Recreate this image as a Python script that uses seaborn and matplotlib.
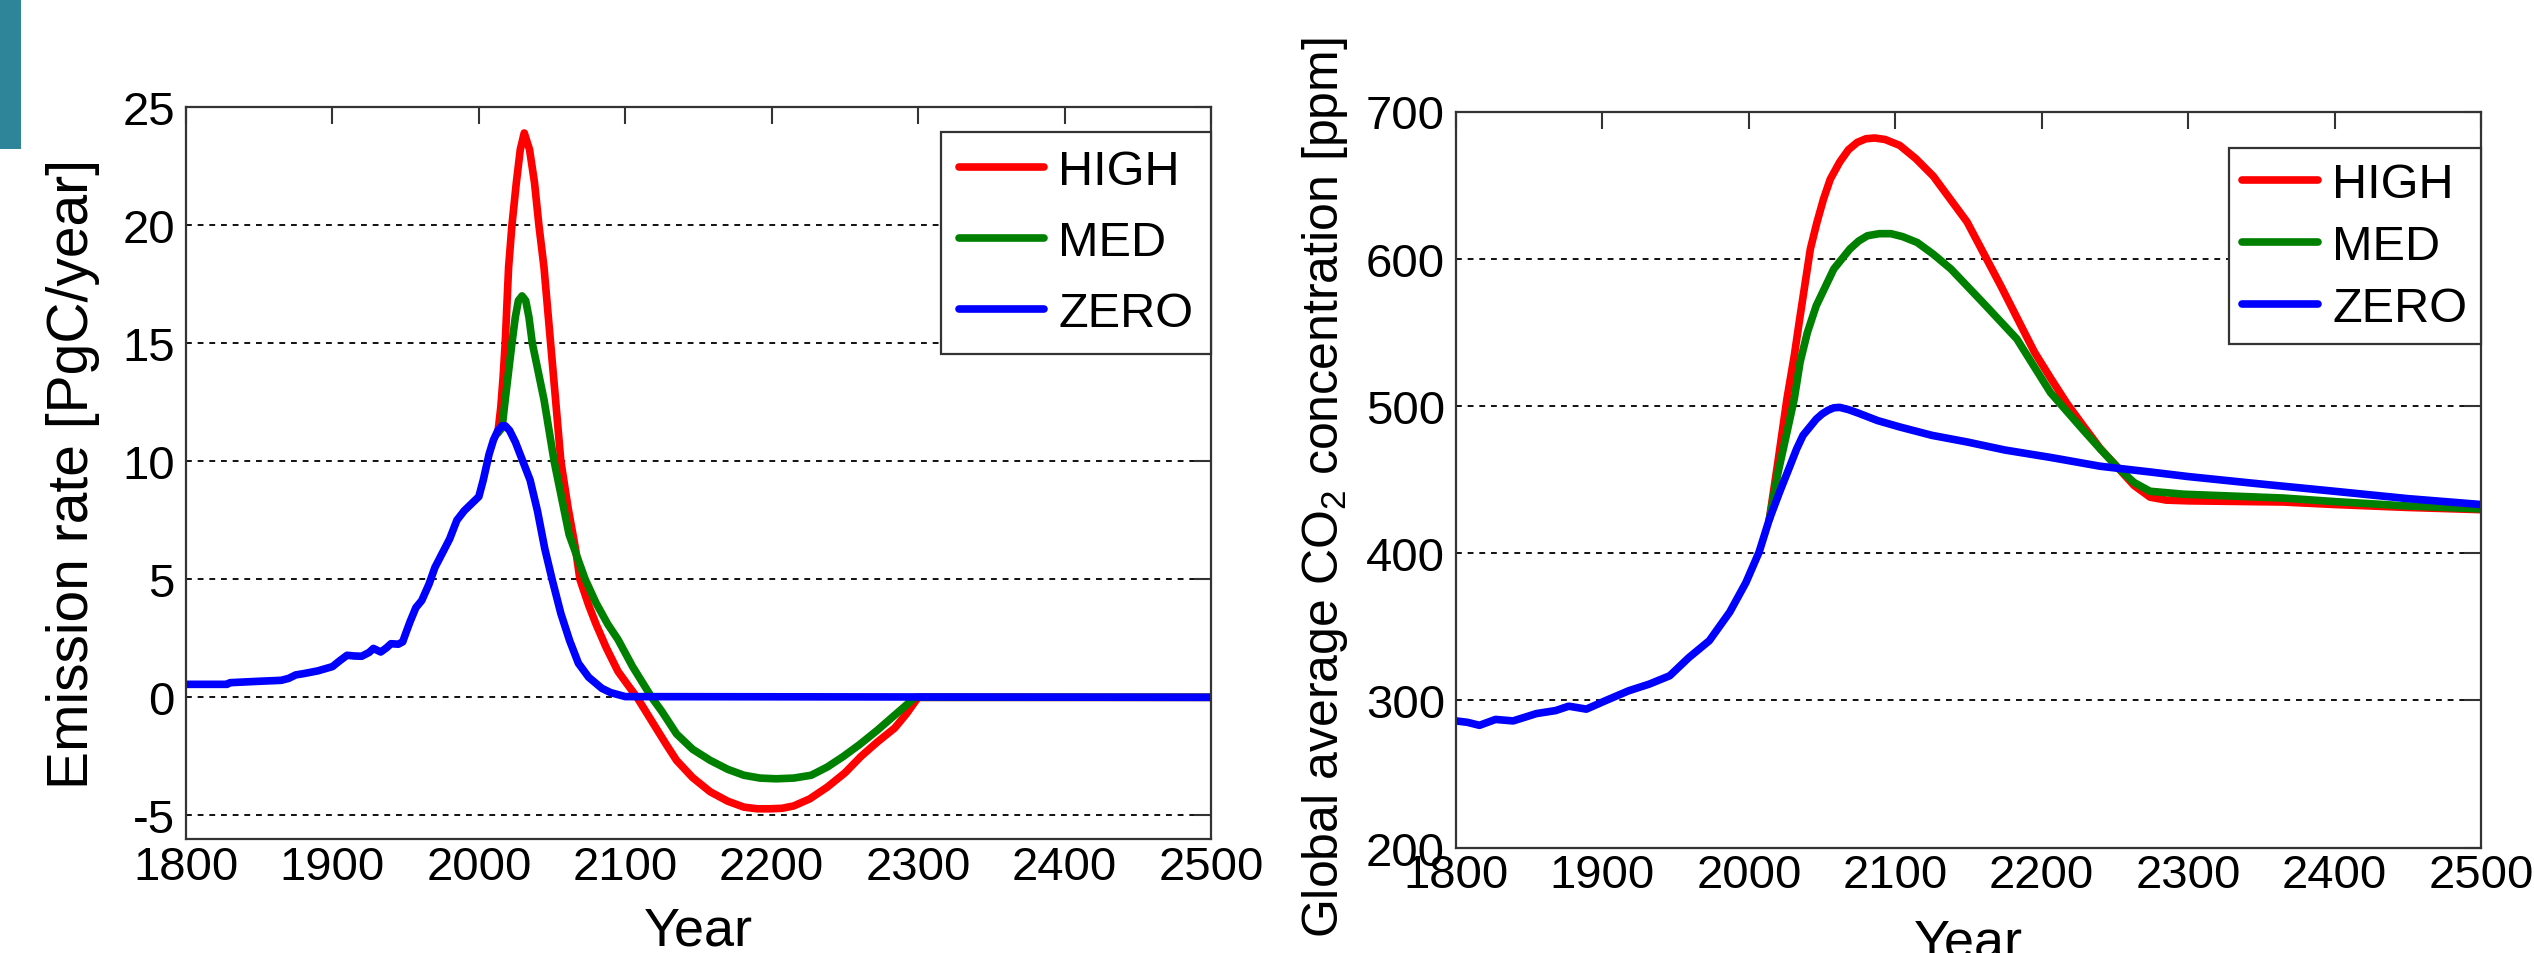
import numpy as np
import pandas as pd
import matplotlib
matplotlib.use("Agg")
import matplotlib.pyplot as plt
from matplotlib.patches import Rectangle
from matplotlib.lines import Line2D
import seaborn as sns

# ---------------- data ----------------
scenarios = ["HIGH", "MED", "ZERO"]
colors = {"HIGH": "#FF0000", "MED": "#008000", "ZERO": "#0000FF"}

# Emission rate [PgC/year]
em_zero_years = [1800, 1828, 1830, 1850, 1865, 1870, 1875, 1880, 1890, 1900, 1905, 1910, 1915,
                 1920, 1925, 1928, 1933, 1937, 1940, 1945, 1948, 1950, 1953, 1957, 1961, 1966,
                 1970, 1975, 1980, 1985, 1990, 1995, 2000, 2003, 2007, 2010, 2013, 2016, 2018,
                 2021, 2025, 2030, 2035, 2040, 2045, 2050, 2056, 2062, 2068, 2075, 2084, 2090,
                 2100, 2500]
em_zero_vals = [0.55, 0.55, 0.62, 0.68, 0.72, 0.8, 0.95, 1.0, 1.12, 1.3, 1.55, 1.78, 1.75,
                1.74, 1.9, 2.07, 1.92, 2.1, 2.27, 2.25, 2.35, 2.7, 3.2, 3.8, 4.1, 4.8,
                5.5, 6.1, 6.7, 7.5, 7.9, 8.2, 8.5, 9.2, 10.3, 10.9, 11.3, 11.5, 11.5,
                11.3, 10.8, 10.0, 9.2, 7.9, 6.3, 5.0, 3.55, 2.4, 1.44, 0.85, 0.38, 0.2,
                0.03, 0.0]

em_high_years = [2013, 2015, 2016.5, 2018, 2020.3, 2022.6, 2025.6, 2028.3, 2031, 2034.6, 2038,
                 2041, 2044.5, 2049, 2052.4, 2056, 2061, 2066, 2069, 2075, 2080, 2087, 2095,
                 2102, 2108, 2112, 2120, 2128, 2135, 2146, 2158, 2170, 2181, 2190, 2199, 2207,
                 2215, 2226, 2238, 2250, 2261, 2272, 2284, 2292, 2300, 2500]
em_high_vals = [11.2, 12.3, 13.5, 15.0, 18.2, 20.0, 21.8, 23.2, 23.9, 23.2, 21.8,
                20.0, 18.2, 15.0, 12.6, 10.0, 8.0, 6.3, 5.0, 3.9, 3.1, 2.1, 1.1,
                0.5, 0.0, -0.4, -1.2, -2.0, -2.67, -3.4, -4.0, -4.4, -4.65, -4.72, -4.72, -4.7,
                -4.6, -4.3, -3.8, -3.2, -2.5, -1.9, -1.3, -0.7, 0.0, 0.0]

em_med_years = [2013, 2015.8, 2018, 2022.6, 2024.9, 2027, 2029.5, 2032, 2034.2, 2036.5, 2044.5,
                2051.4, 2061.6, 2072.6, 2080, 2088, 2095, 2105, 2112, 2118, 2125, 2135, 2146,
                2158, 2170, 2181, 2192, 2203, 2215, 2227, 2238, 2249, 2260, 2272, 2285, 2298,
                2500]
em_med_vals = [11.2, 11.4, 12.6, 15.0, 16.1, 16.8, 17.0, 16.8, 16.1, 15.0, 12.6,
               10.0, 6.9, 5.0, 4.0, 3.1, 2.45, 1.3, 0.6, 0.0, -0.6, -1.55, -2.2,
               -2.67, -3.05, -3.3, -3.42, -3.45, -3.42, -3.3, -2.95, -2.5, -2.0, -1.4, -0.7, 0.0,
               0.0]

# Global average CO2 concentration [ppm]
co2_zero_years = [1800, 1808, 1816, 1827, 1839, 1855, 1868, 1877, 1889, 1902, 1918, 1932, 1946,
                  1959, 1973, 1987, 1998, 2007, 2014, 2021, 2028, 2032.6, 2037, 2046, 2050, 2054,
                  2058, 2062, 2068, 2075, 2088, 2103, 2125, 2149, 2175, 2206, 2240, 2275, 2300,
                  2343, 2400, 2450, 2500]
co2_zero_vals = [286, 285, 283, 287, 286, 291, 293, 296, 294, 299.7, 306.5, 311, 316.7,
                 329, 340.5, 360, 380, 400.7, 423, 441.5, 459, 470.7, 480, 491, 494.5, 497,
                 498.7, 499, 497.5, 495, 490, 485.7, 480, 475.5, 470, 465, 459, 455, 452,
                 447.6, 442, 437, 433]

co2_high_years = [2014, 2020, 2026, 2031, 2035, 2042, 2046.5, 2051, 2055.6, 2062, 2068, 2074, 2080,
                  2086, 2093, 2103, 2114, 2126, 2149, 2172, 2195, 2206, 2217, 2228, 2240, 2252,
                  2263, 2274, 2285, 2300, 2365, 2400, 2450, 2500]
co2_high_vals = [423, 463, 504.7, 534, 561, 606.6, 624.7, 640.6, 654, 665.6, 674, 679, 681.5,
                 682, 681, 677, 668, 656, 625, 581.7, 536.6, 519, 502, 487, 471, 458,
                 446, 438, 436, 435.5, 434.7, 433, 431, 429.5]

co2_med_years = [2014, 2020, 2026, 2031, 2035, 2040, 2046, 2058, 2069, 2075, 2081, 2089, 2097,
                 2105, 2115, 2126, 2138, 2160, 2183, 2206, 2228, 2240, 2252, 2263, 2274, 2297,
                 2365, 2400, 2450, 2500]
co2_med_vals = [423, 455, 482, 504.7, 529.8, 550, 568, 593, 606.6, 612, 615.6, 617, 617,
                615, 611, 603, 593, 570, 545.5, 509, 484, 470.7, 458, 448, 442, 440,
                437.4, 435, 432, 430]

xticks = [1800, 1900, 2000, 2100, 2200, 2300, 2400, 2500]
em_yticks = [-5, 0, 5, 10, 15, 20, 25]
co2_yticks = [200, 300, 400, 500, 600, 700]


def long_frame(parts):
    frames = []
    for name, yrs, vals in parts:
        frames.append(pd.DataFrame({"Year": yrs, "value": vals, "scenario": name}))
    return pd.concat(frames, ignore_index=True)


em_df = long_frame([("HIGH", em_high_years, em_high_vals),
                    ("MED", em_med_years, em_med_vals),
                    ("ZERO", em_zero_years, em_zero_vals)])
co2_df = long_frame([("HIGH", co2_high_years, co2_high_vals),
                     ("MED", co2_med_years, co2_med_vals),
                     ("ZERO", co2_zero_years, co2_zero_vals)])

# ---------------- style ----------------
sns.set_style("white")
plt.rcParams["font.family"] = ["Liberation Sans", "DejaVu Sans"]
plt.rcParams["mathtext.fontset"] = "custom"
plt.rcParams["mathtext.rm"] = "Liberation Sans"
plt.rcParams["mathtext.it"] = "Liberation Sans:italic"
plt.rcParams["text.color"] = "black"
plt.rcParams["axes.labelcolor"] = "black"
plt.rcParams["xtick.color"] = "black"
plt.rcParams["ytick.color"] = "black"

W, H = 2534, 954
fig = plt.figure(figsize=(W / 100, H / 100), dpi=100)
fig.patch.set_facecolor("white")

fig.patches.append(Rectangle((0, 1 - 150 / H), 21 / W, 150 / H, transform=fig.transFigure,
                             facecolor="#2E8499", edgecolor="none", zorder=0))


def px_axes(l, r, t, b):
    return fig.add_axes([l / W, 1 - b / H, (r - l) / W, (b - t) / H])


ax1 = px_axes(186, 1211, 108, 840)
ax2 = px_axes(1456, 2481, 112.5, 848.5)

spine_col = "#333333"
for ax, df, yticks, ylim in [(ax1, em_df, em_yticks, (-6, 25)),
                             (ax2, co2_df, co2_yticks, (200, 700))]:
    sns.lineplot(data=df, x="Year", y="value", hue="scenario", hue_order=scenarios,
                 palette=colors, linewidth=5.5, estimator=None, sort=False,
                 legend=False, ax=ax)
    ax.set_xlim(1800, 2500)
    ax.set_ylim(*ylim)
    ax.set_xticks(xticks)
    ax.set_yticks(yticks)
    ax.set_xticklabels([str(v) for v in xticks])
    ax.set_yticklabels([str(v) for v in yticks])
    ax.tick_params(direction="in", length=12, width=1.5, color=spine_col, labelcolor="black",
                   top=True, right=True, labelsize=34, pad=8)
    ax.tick_params(axis="x", pad=4)
    for s in ax.spines.values():
        s.set_visible(True)
        s.set_color(spine_col)
        s.set_linewidth(1.6)
    ax.yaxis.grid(True, color="#111111", linestyle=(0, (3, 3)), linewidth=1.4)
    ax.xaxis.grid(False)
    ax.set_axisbelow(True)

ax1.set_xlabel("Year", fontsize=39, va="baseline", color="black")
ax1.xaxis.set_label_coords(0.5, (840 - 946) / 732)
ax1.set_ylabel("Emission rate [PgC/year]", fontsize=41, va="center", color="black")
ax1.yaxis.set_label_coords((73 - 186) / 1025, 0.5)

ax2.set_xlabel("Year", fontsize=39, va="baseline", color="black")
ax2.xaxis.set_label_coords(0.5, (848.5 - 958) / 736)
ax2.set_ylabel("Global average CO$_\\mathregular{2}$ concentration [ppm]", fontsize=36,
               va="center", color="black")
ax2.yaxis.set_label_coords((1325 - 1456) / 1025, 0.49)

for ax, anchor_y, hl, ls, bp in [(ax1, (840 - 133) / 732, 1.75, 0.53, 0.36),
                                 (ax2, (848.5 - 149) / 736, 1.55, 0.35, 0.28)]:
    handles = [Line2D([], [], color=colors[s], linewidth=5.5) for s in scenarios]
    leg = ax.legend(handles, scenarios, loc="upper right", bbox_to_anchor=(1.0, anchor_y),
                    borderaxespad=0, fontsize=35, frameon=True, fancybox=False,
                    handlelength=hl, handletextpad=0.3, labelspacing=ls, borderpad=bp)
    for t in leg.get_texts():
        t.set_color("black")
    fr = leg.get_frame()
    fr.set_edgecolor(spine_col)
    fr.set_linewidth(1.6)
    fr.set_facecolor("white")
    fr.set_alpha(1)

fig.savefig("out.png", dpi=100, facecolor="white")
